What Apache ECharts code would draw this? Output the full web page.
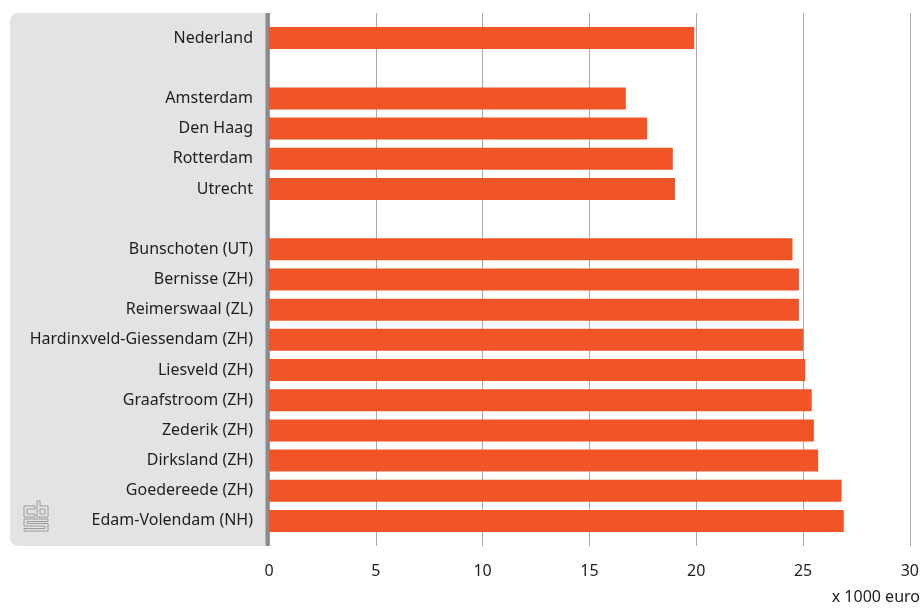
<!DOCTYPE html>
<html>
<head>
<meta charset="utf-8">
<script src="https://cdn.jsdelivr.net/npm/echarts@6/dist/echarts.min.js"></script>
<style>
  html, body { margin: 0; padding: 0; background: #fff; }
  #chart { width: 922px; height: 608px; }
</style>
</head>
<body>
<div id="chart"></div>
<script type="text/javascript">

// gemeenten, lege regels zijn witruimte tussen de groepen
var categories = [
    'Nederland', '',
    'Amsterdam', 'Den Haag', 'Rotterdam', 'Utrecht', '',
    'Bunschoten (UT)', 'Bernisse (ZH)', 'Reimerswaal (ZL)',
    'Hardinxveld-Giessendam (ZH)', 'Liesveld (ZH)', 'Graafstroom (ZH)',
    'Zederik (ZH)', 'Dirksland (ZH)', 'Goedereede (ZH)', 'Edam-Volendam (NH)'
];
var values = [
    19.9, null,
    16.7, 17.7, 18.9, 19.0, null,
    24.5, 24.8, 24.8, 25.0, 25.1, 25.4, 25.5, 25.7, 26.8, 26.9
];
var xMin = 0, xMax = 30, xStep = 5;
var unitLabel = 'x 1000 euro';

var font = 'Noto Sans';

var chart = echarts.init(document.getElementById('chart'));

var option = {
    animation: false,
    textStyle: { fontFamily: font },
    graphic: [
        // grijs vlak achter de labels
        { type: 'rect', z: -10, shape: { x: 10, y: 13, width: 256, height: 533, r: [8, 0, 0, 8] },
          style: { fill: '#e2e3e5' } },
        { type: 'rect', z: 1, shape: { x: 265.5, y: 13, width: 4, height: 533 },
          style: { fill: '#8b8b8f' } },
        // cbs logo
        { type: 'group', z: 5, children: [
            { type: 'polygon', shape: { points: [[24,506],[35,506],[35,509],[27,509],[27,514],[35,514],[35,517],[24,517]] },
              style: { fill: 'none', stroke: '#9a9a9a', lineWidth: 1 } },
            { type: 'polygon', shape: { points: [[37,501],[40,501],[40,506],[48,506],[48,517],[37,517]] },
              style: { fill: 'none', stroke: '#9a9a9a', lineWidth: 1 } },
            { type: 'polygon', shape: { points: [[40,509],[45,509],[45,514],[40,514]] },
              style: { fill: 'none', stroke: '#9a9a9a', lineWidth: 1 } },
            { type: 'polygon', shape: { points: [[24,519],[48,519],[48,521.5],[27,521.5],[27,523.5],[48,523.5],[48,531],[24,531],[24,528.5],[45,528.5],[45,526],[24,526]] },
              style: { fill: 'none', stroke: '#9a9a9a', lineWidth: 1 } }
        ] },
        { type: 'text', right: 2, top: 589,
          style: { text: unitLabel, font: '16px "' + font + '"', fill: '#222' } }
    ],
    grid: [
        { left: 269, right: 12, top: 23, bottom: 72 },
        { left: 269, right: 12, top: 13, bottom: 62 }
    ],
    xAxis: [
        {
            gridIndex: 0, type: 'value', min: xMin, max: xMax, interval: xStep,
            axisLine: { show: false }, axisTick: { show: false },
            axisLabel: { show: false }, splitLine: { show: false }
        },
        {
            gridIndex: 1, type: 'value', min: xMin, max: xMax, interval: xStep,
            axisLine: { show: false }, axisTick: { show: false },
            axisLabel: { color: '#222', fontSize: 16, margin: 17, fontFamily: font },
            splitLine: { show: true, lineStyle: { color: '#a9a9a9', width: 1 } }
        }
    ],
    yAxis: [
        {
            gridIndex: 0, type: 'category', data: categories, inverse: true,
            axisLine: { show: false }, axisTick: { show: false },
            axisLabel: { color: '#1e1e1e', fontSize: 16, margin: 16, fontFamily: font }
        },
        {
            gridIndex: 1, type: 'value', show: false
        }
    ],
    series: [
        {
            name: 'Inkomen',
            type: 'bar',
            xAxisIndex: 0,
            yAxisIndex: 0,
            barWidth: 22,
            z: 3,
            itemStyle: { color: '#f05427' },
            data: values
        }
    ]
};

chart.setOption(option);

</script>
</body>
</html>
